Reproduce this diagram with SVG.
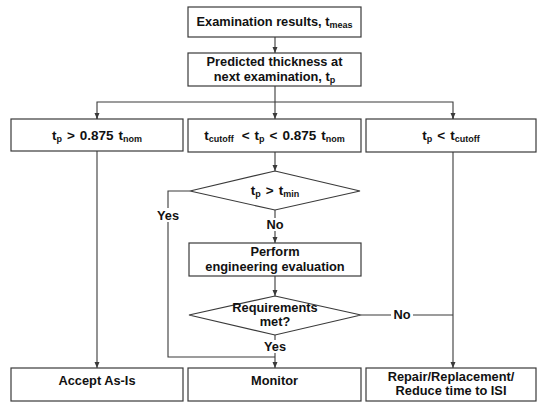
<svg xmlns="http://www.w3.org/2000/svg" width="539" height="403" viewBox="0 0 539 403">
<defs>
<style>
.box{fill:#fff;stroke:#3a3a3a;stroke-width:1.2}
.ln{fill:none;stroke:#3a3a3a;stroke-width:1.1}
text{font-family:"Liberation Sans",Arial,sans-serif;font-weight:bold;font-size:12.8px;fill:#111;text-anchor:middle}
.big{font-size:13.5px}
.sub{font-size:9px}
.lbl{fill:#fff;stroke:none}
</style>
<marker id="ar" viewBox="0 0 6 6" refX="6" refY="3" markerWidth="6" markerHeight="6" orient="auto" markerUnits="userSpaceOnUse">
<path d="M0,0.5 L6,3 L0,5.5 z" fill="#3a3a3a"/>
</marker>
</defs>
<rect width="539" height="403" fill="#fff"/>
<g id="connectors">
<line class="ln" x1="275" y1="37" x2="275" y2="53" marker-end="url(#ar)"/>
<line class="ln" x1="275" y1="86" x2="275" y2="102"/>
<polyline class="ln" points="97,119 97,102 453,102 453,119"/>
<line class="ln" x1="97" y1="113" x2="97" y2="119" marker-end="url(#ar)"/>
<line class="ln" x1="275" y1="102" x2="275" y2="119" marker-end="url(#ar)"/>
<line class="ln" x1="453" y1="113" x2="453" y2="119" marker-end="url(#ar)"/>
<line class="ln" x1="97" y1="151" x2="97" y2="368" marker-end="url(#ar)"/>
<line class="ln" x1="453" y1="152" x2="453" y2="368" marker-end="url(#ar)"/>
<line class="ln" x1="275" y1="152" x2="275" y2="171" marker-end="url(#ar)"/>
<polyline class="ln" points="190,191 168,191 168,357 275,357"/>
<line class="ln" x1="275" y1="210" x2="275" y2="243" marker-end="url(#ar)"/>
<line class="ln" x1="275" y1="276" x2="275" y2="296" marker-end="url(#ar)"/>
<line class="ln" x1="275" y1="335" x2="275" y2="368" marker-end="url(#ar)"/>
<line class="ln" x1="361" y1="315" x2="453" y2="315"/>
<rect class="lbl" x="156" y="208" width="24" height="14"/>
<text x="168" y="220">Yes</text>
<rect class="lbl" x="264" y="218" width="22" height="13"/>
<text x="275" y="229">No</text>
<rect class="lbl" x="263" y="340" width="24" height="13"/>
<text x="275" y="351">Yes</text>
<rect class="lbl" x="391" y="308" width="22" height="13"/>
<text x="402" y="319">No</text>
</g>
<g id="n1"><rect class="box" x="188" y="7" width="173" height="30"/>
<text x="274.5" y="26">Examination results, t<tspan class="sub" dy="2">meas</tspan></text></g>
<g id="n2"><rect class="box" x="188" y="53" width="173" height="33"/>
<text x="274.5" y="66">Predicted thickness at</text>
<text x="274.5" y="81">next examination, t<tspan class="sub" dy="2">p</tspan></text></g>
<g id="n3"><rect class="box" x="11" y="119" width="172" height="32"/>
<text class="big" x="97" y="140">t<tspan class="sub" dy="2">p</tspan><tspan dy="-2" dx="5">&gt;</tspan><tspan dx="5">0.875</tspan><tspan dx="5">t</tspan><tspan class="sub" dy="2">nom</tspan></text></g>
<g id="n4"><rect class="box" x="188" y="119" width="173" height="33"/>
<text class="big" x="274.5" y="140">t<tspan class="sub" dy="2">cutoff</tspan><tspan dy="-2" dx="8">&lt;</tspan><tspan dx="5">t</tspan><tspan class="sub" dy="2">p</tspan><tspan dy="-2" dx="5">&lt;</tspan><tspan dx="5">0.875</tspan><tspan dx="5">t</tspan><tspan class="sub" dy="2">nom</tspan></text></g>
<g id="n5"><rect class="box" x="366" y="119" width="170" height="33"/>
<text class="big" x="451" y="140">t<tspan class="sub" dy="2">p</tspan><tspan dy="-2" dx="5">&lt;</tspan><tspan dx="5">t</tspan><tspan class="sub" dy="2">cutoff</tspan></text></g>
<g id="d1"><polygon class="box" points="275,171 360,191 275,210 190,191"/>
<text class="big" x="275" y="195">t<tspan class="sub" dy="2">p</tspan><tspan dy="-2" dx="5">&gt;</tspan><tspan dx="5">t</tspan><tspan class="sub" dy="2">min</tspan></text></g>
<g id="n6"><rect class="box" x="189" y="243" width="172" height="33"/>
<text x="275" y="256">Perform</text>
<text x="275" y="271">engineering evaluation</text></g>
<g id="d2"><polygon class="box" points="275,296 361,315 275,335 189,315"/>
<text x="275" y="312">Requirements</text>
<text x="275" y="326">met?</text></g>
<g id="n7"><rect class="box" x="11" y="368" width="172" height="33"/>
<text x="97" y="385">Accept As-Is</text></g>
<g id="n8"><rect class="box" x="188" y="368" width="173" height="33"/>
<text x="274.5" y="385">Monitor</text></g>
<g id="n9"><rect class="box" x="366" y="368" width="170" height="33"/>
<text x="451" y="381">Repair/Replacement/</text>
<text x="451" y="395">Reduce time to ISI</text></g>
</svg>
